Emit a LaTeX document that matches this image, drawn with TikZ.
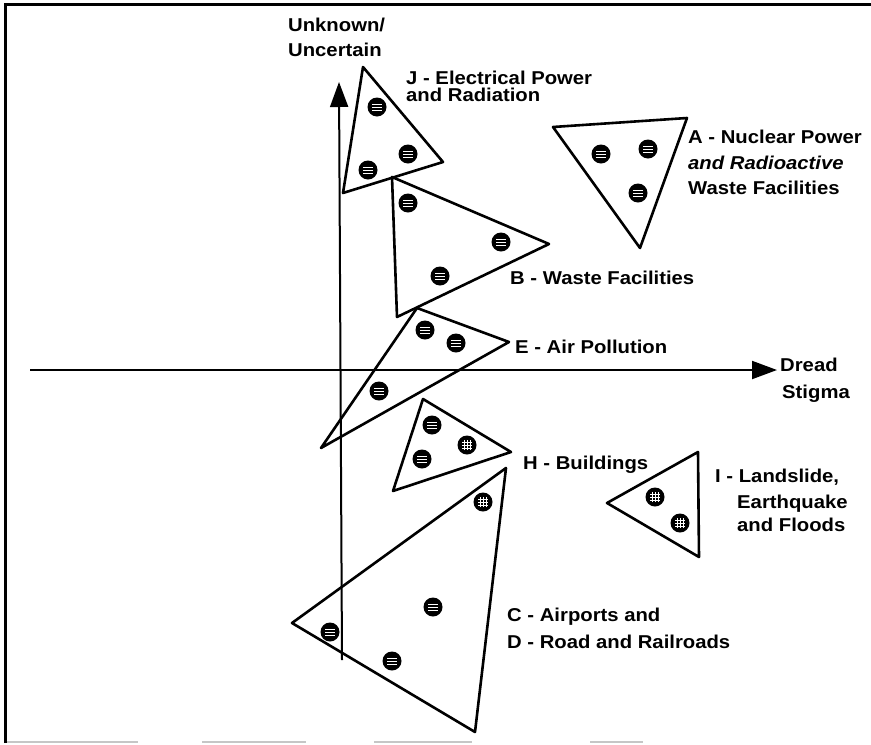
\documentclass[tikz,border=0pt]{standalone}
\usepackage{fontspec}
\setmainfont{Liberation Sans}[FakeStretch=1.09]
\usetikzlibrary{arrows.meta}
\begin{document}
\begin{tikzpicture}[x=1pt,y=-1pt,
  tri/.style={draw, line width=2.6pt, line join=round},
  axis/.style={line width=2pt, -{Triangle[length=25pt,width=18pt]}},
  lbl/.style={anchor=base west, inner sep=0pt, font=\fontsize{18.6pt}{20pt}\selectfont\bfseries},
  linedot/.style={circle, fill=black, inner sep=0pt, minimum size=19pt,
    path picture={\foreach \dy in {-3,0,3}
      \draw[white, line width=0.7pt] ([xshift=-5pt,yshift=\dy pt]path picture bounding box.center) -- ([xshift=5pt,yshift=\dy pt]path picture bounding box.center);}},
  griddot/.style={circle, fill=black, inner sep=0pt, minimum size=19pt,
    path picture={\foreach \d in {-3,0,3} {
      \draw[white, line width=0.6pt] ([xshift=-5pt,yshift=\d pt]path picture bounding box.center) -- ([xshift=5pt,yshift=\d pt]path picture bounding box.center);
      \draw[white, line width=0.6pt] ([xshift=\d pt,yshift=-5pt]path picture bounding box.center) -- ([xshift=\d pt,yshift=5pt]path picture bounding box.center);}}}
]
\useasboundingbox (0,0) rectangle (871,745);
% frame
\draw[line width=3pt] (5,743) -- (5,4) -- (871,4);
\draw[gray!45, line width=2pt] (7,742) -- (138,742) (202,742) -- (306,742) (374,742) -- (472,742) (590,742) -- (643,742);
% axes
\coordinate (vb) at (342,660);
\coordinate (vt) at (339,82);
\coordinate (hl) at (30,370);
\coordinate (hr) at (777,370);
\draw[axis] (vb) -- (vt);
\draw[axis] (hl) -- (hr);
% triangles
\coordinate (J1) at (363,67);  \coordinate (J2) at (443,162); \coordinate (J3) at (343,193);
\coordinate (A1) at (553,127); \coordinate (A2) at (687,118); \coordinate (A3) at (640,248);
\coordinate (B1) at (392,177); \coordinate (B2) at (549,244); \coordinate (B3) at (397,317);
\coordinate (E1) at (417,308); \coordinate (E2) at (509,342); \coordinate (E3) at (321,448);
\coordinate (H1) at (423,399); \coordinate (H2) at (511,452); \coordinate (H3) at (393,491);
\coordinate (C1) at (506,468); \coordinate (C2) at (292,623); \coordinate (C3) at (475,732);
\coordinate (I1) at (698,452); \coordinate (I2) at (607,503); \coordinate (I3) at (699,557);
\draw[tri] (J1) -- (J2) -- (J3) -- cycle;
\draw[tri] (A1) -- (A2) -- (A3) -- cycle;
\draw[tri] (B1) -- (B2) -- (B3) -- cycle;
\draw[tri] (E1) -- (E2) -- (E3) -- cycle;
\draw[tri] (H1) -- (H2) -- (H3) -- cycle;
\draw[tri] (C1) -- (C2) -- (C3) -- cycle;
\draw[tri] (I1) -- (I2) -- (I3) -- cycle;
% dots
\node[linedot] (j1) at (377,107) {};
\node[linedot] (j2) at (408,154) {};
\node[linedot] (j3) at (368,170) {};
\node[linedot] (a1) at (601,154) {};
\node[linedot] (a2) at (648,149) {};
\node[linedot] (a3) at (638,193) {};
\node[linedot] (b1) at (408,203) {};
\node[linedot] (b2) at (501,242) {};
\node[linedot] (b3) at (440,276) {};
\node[linedot] (e1) at (425,330) {};
\node[linedot] (e2) at (456,343) {};
\node[linedot] (e3) at (379,391) {};
\node[linedot] (h1) at (432,425) {};
\node[griddot] (h2) at (467,445) {};
\node[linedot] (h3) at (422,459) {};
\node[griddot] (c1) at (483,502) {};
\node[linedot] (c2) at (433,607) {};
\node[linedot] (c3) at (330,632) {};
\node[linedot] (c4) at (392,661) {};
\node[griddot] (i1) at (655,497) {};
\node[griddot] (i2) at (680,523) {};
% labels
\node[lbl] (u1) at (288,31.6) {Unknown/};
\node[lbl] (u2) at (288,56.6) {Uncertain};
\node[lbl] (jl1) at (406,84.6) {J - Electrical Power};
\node[lbl] (jl2) at (406,101.6) {and Radiation};
\node[lbl] (al1) at (688,143.6) {A - Nuclear Power};
\node[lbl] (al2) at (688,169.6) {\itshape and Radioactive};
\node[lbl] (al3) at (688,194.6) {Waste Facilities};
\node[lbl] (bl) at (510,284.6) {B - Waste Facilities};
\node[lbl] (el) at (515,353.6) {E - Air Pollution};
\node[lbl] (d1) at (780,371.6) {Dread};
\node[lbl] (d2) at (782,398.6) {Stigma};
\node[lbl] (hl1) at (523,469.6) {H - Buildings};
\node[lbl] (il1) at (715,482.6) {I - Landslide,};
\node[lbl] (il2) at (737,508.6) {Earthquake};
\node[lbl] (il3) at (737,531.6) {and Floods};
\node[lbl] (cl1) at (507,621.6) {C - Airports and};
\node[lbl] (cl2) at (507,648.6) {D - Road and Railroads};
\end{tikzpicture}
\end{document}
